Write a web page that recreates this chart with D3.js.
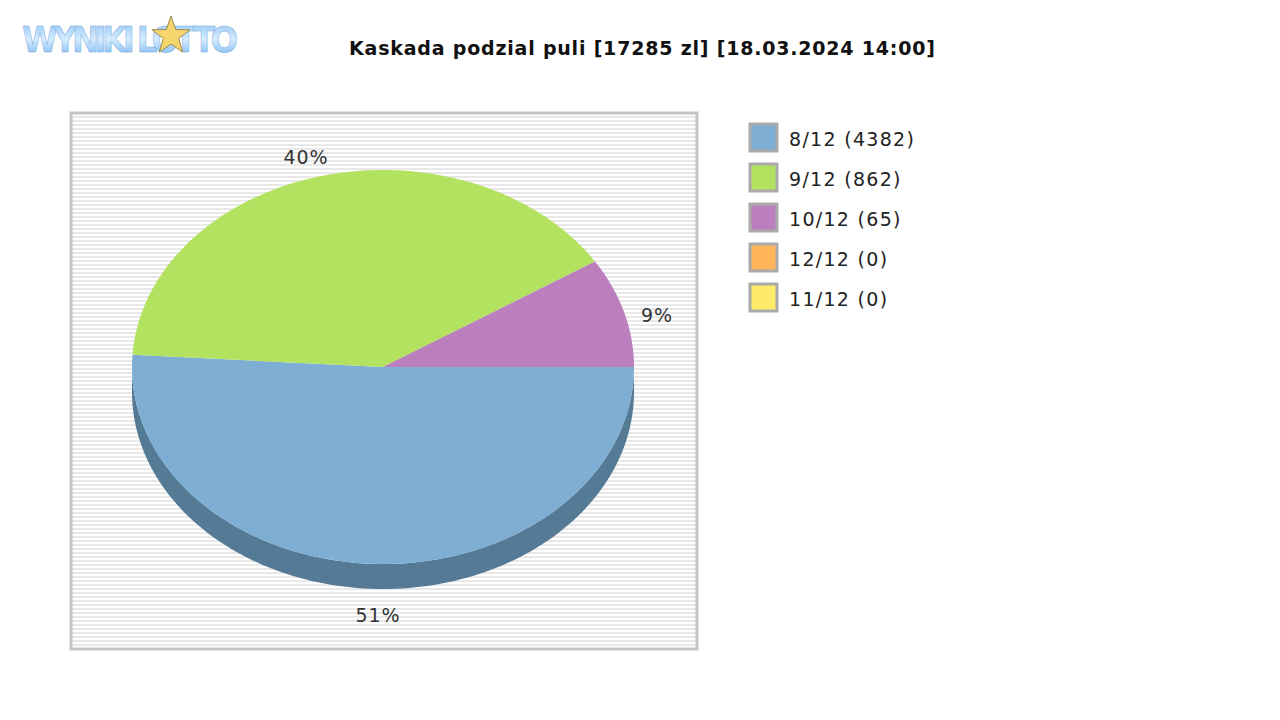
<!DOCTYPE html>
<html><head><meta charset="utf-8">
<script src="https://cdn.jsdelivr.net/npm/d3@7"></script>
<style>body{margin:0;background:#fff}svg{display:block;font-family:"DejaVu Sans",sans-serif}</style>
</head><body><svg id="chart" width="1280" height="720"></svg>
<script>
const categories = ["8/12 (4382)", "9/12 (862)", "10/12 (65)", "12/12 (0)", "11/12 (0)"];
const shares = [51, 40, 9, 0, 0];
const colors = ["#7eaed4", "#b3e261", "#bb7fbd", "#ffb55a", "#ffeb6a"];
const title = "Kaskada podzial puli [17285 zl] [18.03.2024 14:00]";

let svg = d3.select('#chart');

// logo
let defs = svg.append("defs");
let grad = defs.append("linearGradient").attr("id", "lg").attr("x1", 0).attr("x2", 0).attr("y1", 0).attr("y2", 1);
grad.append("stop").attr("offset", "0").attr("stop-color", "#8fc3f5");
grad.append("stop").attr("offset", "0.5").attr("stop-color", "#d6ecff");
grad.append("stop").attr("offset", "1").attr("stop-color", "#6aaef0");
svg.append("text").attr("x", 22).attr("y", 52).attr("font-size", 36).attr("font-weight", "bold")
    .attr("font-family", "'DejaVu Sans Condensed',sans-serif").attr("fill", "url(#lg)")
    .attr("stroke", "#7aaee0").attr("stroke-width", 0.5).attr("textLength", 216).text("WYNIKI LOTTO");
let star = d3.range(10).map(i => {
    let r = i % 2 ? 8 : 20, a = -Math.PI / 2 + i * Math.PI / 5;
    return [171 + r * Math.cos(a), 36 + r * Math.sin(a)];
});
svg.append("path").attr("d", "M" + star.join("L") + "Z").attr("fill", "#f5d66e").attr("stroke", "#9a8a50");

// title
svg.append("text").attr("x", 349).attr("y", 55).attr("textLength", 586)
    .attr("font-size", 19).attr("font-weight", "bold").attr("fill", "#111").text(title);

// plot area
let px = 72, py = 114, pw = 624, ph = 534;
svg.append("rect").attr("x", px).attr("y", py).attr("width", pw).attr("height", ph).attr("fill", "#fff");
svg.selectAll("rect.stripe").data(d3.range(py + 2, py + ph, 4)).enter().append("rect")
    .attr("class", "stripe").attr("x", px).attr("y", d => d).attr("width", pw).attr("height", 2).attr("fill", "#e8e8e8");
svg.append("rect").attr("x", px - 1).attr("y", py - 1).attr("width", pw + 2).attr("height", ph + 2)
    .attr("fill", "none").attr("stroke", "#c4c4c4").attr("stroke-width", 3);

// pie
let cx = 383, cy = 367, rx = 251, ry = 197, depth = 25;
let pie = d3.pie().sort(null).startAngle(0).endAngle(2 * Math.PI);
let arcs = pie(shares);
let pt = (a, dy) => [cx + rx * Math.cos(a), cy + ry * Math.sin(a) + (dy || 0)];

// side
let sideA = d3.range(0, Math.PI + 0.001, Math.PI / 120);
let side = sideA.map(a => pt(a)).concat(sideA.slice().reverse().map(a => pt(a, depth)));
svg.append("path").attr("d", "M" + side.join("L") + "Z").attr("fill", "#557a96");

arcs.forEach((d, i) => {
    if (d.endAngle - d.startAngle <= 0) return;
    let n = Math.max(2, Math.ceil((d.endAngle - d.startAngle) * 60));
    let ps = d3.range(n + 1).map(k => pt(d.startAngle + (d.endAngle - d.startAngle) * k / n));
    svg.append("path").attr("d", "M" + [cx, cy] + "L" + ps.join("L") + "Z").attr("fill", colors[i]);
});

// labels
let labelPos = [[378, 622], [306, 164], [657, 322]];
arcs.forEach((d, i) => {
    if (d.value <= 0) return;
    svg.append("text").attr("x", labelPos[i][0]).attr("y", labelPos[i][1]).attr("text-anchor", "middle")
        .attr("font-size", 19).attr("letter-spacing", 1).attr("fill", "#333").text(d.value + "%");
});

// legend
let leg = svg.selectAll("g.leg").data(categories).enter().append("g").attr("class", "leg")
    .attr("transform", (d, i) => "translate(750," + (124 + i * 40) + ")");
leg.append("rect").attr("width", 27).attr("height", 27).attr("fill", (d, i) => colors[i])
    .attr("stroke", "#aaa").attr("stroke-width", 3);
leg.append("text").attr("x", 39).attr("y", 22).attr("font-size", 19).attr("letter-spacing", 1.3)
    .attr("fill", "#222").text(d => d);
</script></body></html>
